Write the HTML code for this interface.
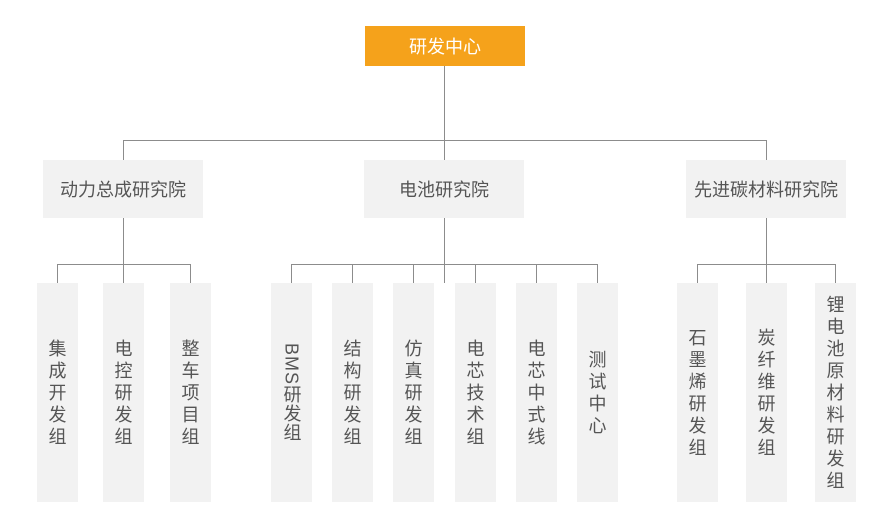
<!DOCTYPE html>
<html><head><meta charset="utf-8"><style>
body{margin:0;width:896px;height:526px;background:#fff;position:relative;overflow:hidden;font-family:"Liberation Sans","Noto Sans CJK SC",sans-serif;color:#555}
.b{position:absolute;background:#f2f2f2;display:flex;align-items:center;justify-content:center;text-align:center;font-size:18px}
.l{position:absolute;top:283px;height:219px;width:41px;font-size:18px;line-height:22px;letter-spacing:0}
.h{position:absolute;height:1px;background:#8c8c8c}
.v{position:absolute;width:1px;background:#8c8c8c}
.vt{writing-mode:vertical-rl;letter-spacing:1px}
</style></head><body>
<div class="b" style="left:365px;top:26px;width:160px;height:40px;background:#f5a21b;color:#fff">研发中心</div>
<div class="v" style="left:444px;top:66px;height:94px"></div>
<div class="h" style="left:123px;top:140px;width:644px"></div>
<div class="v" style="left:123px;top:140px;height:20px"></div>
<div class="v" style="left:766px;top:140px;height:20px"></div>
<div class="b" style="left:43px;top:160px;width:160px;height:58px">动力总成研究院</div>
<div class="b" style="left:364px;top:160px;width:160px;height:58px">电池研究院</div>
<div class="b" style="left:686px;top:160px;width:160px;height:58px">先进碳材料研究院</div>
<div class="v" style="left:123px;top:218px;height:65px"></div>
<div class="v" style="left:444px;top:218px;height:65px"></div>
<div class="v" style="left:766px;top:218px;height:65px"></div>
<div class="h" style="left:57px;top:264px;width:134px"></div>
<div class="h" style="left:291px;top:264px;width:307px"></div>
<div class="h" style="left:697px;top:264px;width:139px"></div>
<div class="v" style="left:57px;top:264px;height:19px"></div>
<div class="v" style="left:190px;top:264px;height:19px"></div>
<div class="v" style="left:291px;top:264px;height:19px"></div>
<div class="v" style="left:352px;top:264px;height:19px"></div>
<div class="v" style="left:413px;top:264px;height:19px"></div>
<div class="v" style="left:475px;top:264px;height:19px"></div>
<div class="v" style="left:536px;top:264px;height:19px"></div>
<div class="v" style="left:597px;top:264px;height:19px"></div>
<div class="v" style="left:697px;top:264px;height:19px"></div>
<div class="v" style="left:835px;top:264px;height:19px"></div>
<div class="b l" style="left:37px">集<br>成<br>开<br>发<br>组</div>
<div class="b l" style="left:103px">电<br>控<br>研<br>发<br>组</div>
<div class="b l" style="left:170px">整<br>车<br>项<br>目<br>组</div>
<div class="b l" style="left:271px"><span class="vt">BMS研发组</span></div>
<div class="b l" style="left:332px">结<br>构<br>研<br>发<br>组</div>
<div class="b l" style="left:393px">仿<br>真<br>研<br>发<br>组</div>
<div class="b l" style="left:455px">电<br>芯<br>技<br>术<br>组</div>
<div class="b l" style="left:516px">电<br>芯<br>中<br>式<br>线</div>
<div class="b l" style="left:577px">测<br>试<br>中<br>心</div>
<div class="b l" style="left:677px">石<br>墨<br>烯<br>研<br>发<br>组</div>
<div class="b l" style="left:746px">炭<br>纤<br>维<br>研<br>发<br>组</div>
<div class="b l" style="left:815px">锂<br>电<br>池<br>原<br>材<br>料<br>研<br>发<br>组</div>
</body></html>
